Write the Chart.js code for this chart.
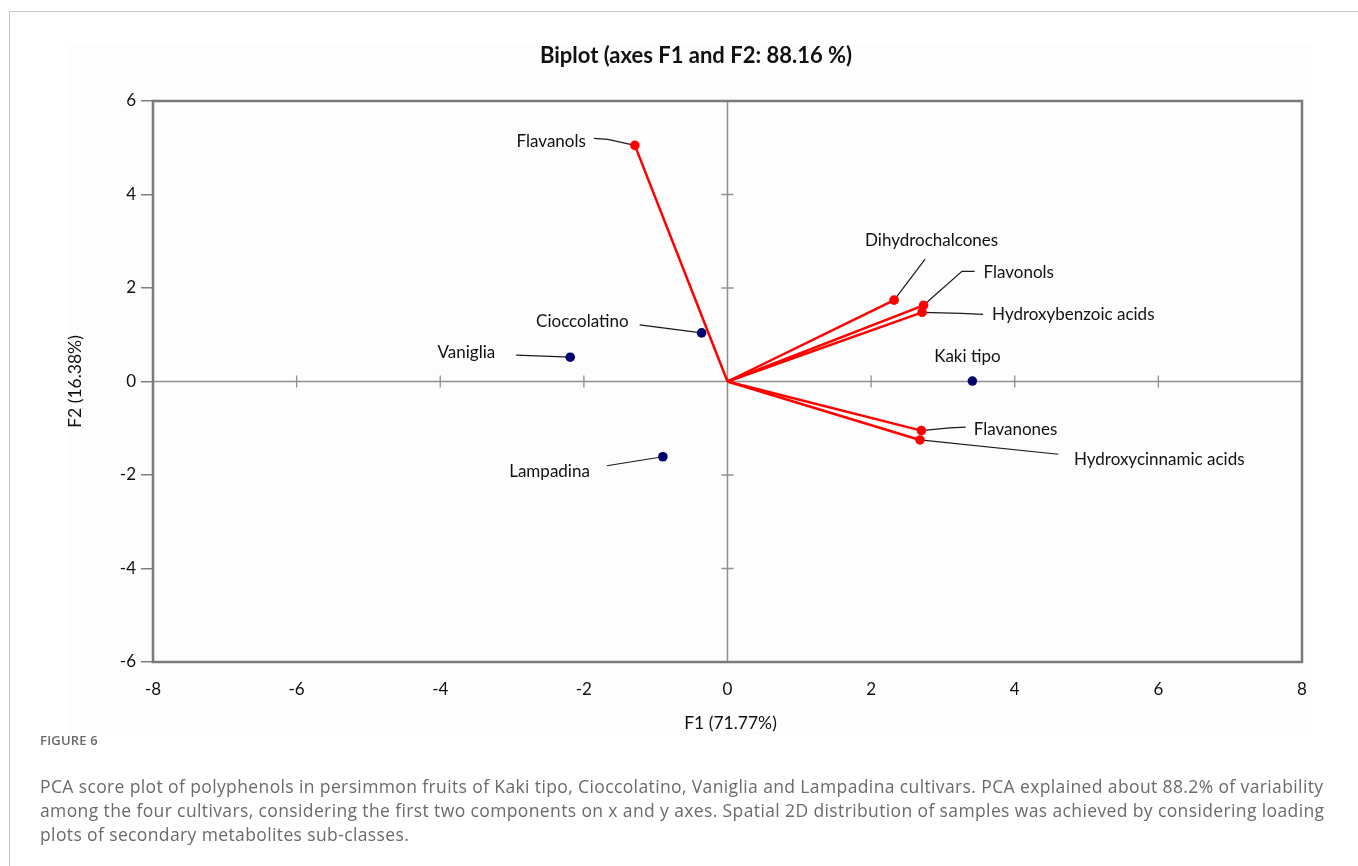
<!DOCTYPE html>
<html>
<head>
<meta charset="utf-8">
<script src="https://cdn.jsdelivr.net/npm/chart.js@4.4.1/dist/chart.umd.min.js"></script>
<style>
  html, body { margin: 0; padding: 0; background: #fff; }
  body { width: 1358px; height: 866px; position: relative; overflow: hidden; }
  #pageFrame { position: absolute; left: 9px; top: 11px; width: 1360px; height: 870px;
               border-top: 1px solid #c8c8c8; border-left: 1px solid #c8c8c8; }
  #plot { position: absolute; left: 0; top: 0; }
  #caption { position: absolute; left: 40px; top: 728px; font-family: 'Open Sans', sans-serif; color: #6a6a6a; }
  #caption .fig { font-size: 13px; font-weight: 600; line-height: 24px; letter-spacing: 0.2px; }
  #caption .txt { font-size: 17.5px; line-height: 24px; white-space: nowrap; margin-top: 22px; letter-spacing: 0.38px; }
</style>
</head>
<body>
<div id="pageFrame"></div>
<canvas id="plot" width="1358" height="740"></canvas>
<div id="caption">
  <div class="fig">FIGURE 6</div>
  <div class="txt">PCA score plot of polyphenols in persimmon fruits of Kaki tipo, Cioccolatino, Vaniglia and Lampadina cultivars. PCA explained about 88.2% of variability<br>among the four cultivars, considering the first two components on x and y axes. Spatial 2D distribution of samples was achieved by considering loading<br>plots of secondary metabolites sub-classes.</div>
</div>
<script>
// Loadings of the polyphenol sub-classes (F1, F2)
const variableNames = ['Flavanols', 'Dihydrochalcones', 'Flavonols', 'Hydroxybenzoic acids', 'Flavanones', 'Hydroxycinnamic acids'];
const variableF1 = [-1.29, 2.32, 2.73, 2.71, 2.70, 2.68];
const variableF2 = [5.05, 1.74, 1.63, 1.48, -1.05, -1.25];

// Scores of the cultivars (F1, F2)
const cultivarNames = ['Kaki tipo', 'Cioccolatino', 'Vaniglia', 'Lampadina'];
const cultivarF1 = [3.41, -0.36, -2.19, -0.90];
const cultivarF2 = [0.01, 1.04, 0.52, -1.61];

// Axis ticks
const xTickValues = [-8, -6, -4, -2, 0, 2, 4, 6, 8];
const yTickValues = [-6, -4, -2, 0, 2, 4, 6];

const chartTitle = 'Biplot (axes F1 and F2: 88.16 %)';
const xAxisTitle = 'F1 (71.77%)';
const yAxisTitle = 'F2 (16.38%)';

// Where each label sits relative to its point (pixels), plus leader-line bends
const labelLayout = {
  'Flavanols':             { dx: -49,  dy: -4,  align: 'right',  leader: [[-27, -6], [-41, -7]] },
  'Dihydrochalcones':      { dx: 37.5, dy: -60, align: 'center', leader: [[31, -41]] },
  'Flavonols':             { dx: 60,   dy: -33, align: 'left',   leader: [[38.4, -34], [51, -34]] },
  'Hydroxybenzoic acids':  { dx: 70,   dy: 2.7, align: 'left',   leader: [[39.4, 1], [61, 2]] },
  'Flavanones':            { dx: 52.3, dy: -1.4, align: 'left',  leader: [[28.3, -2.7], [44.3, -3.4]] },
  'Hydroxycinnamic acids': { dx: 154,  dy: 19.3, align: 'left',  leader: [[138.3, 14.3]] },
  'Kaki tipo':             { dx: -5,   dy: -25, align: 'center', leader: [] },
  'Cioccolatino':          { dx: -73,  dy: -11, align: 'right',  leader: [[-62, -8]] },
  'Vaniglia':              { dx: -75,  dy: -5,  align: 'right',  leader: [[-54, -2]] },
  'Lampadina':             { dx: -73,  dy: 15,  align: 'right',  leader: [[-56, 9]] }
};

const RED = '#ff0000';
const NAVY = '#00006e';
const LABEL_FONT = '17px Lato';

// One dataset per loading vector: origin -> loading point
const vectorDatasets = variableNames.map((name, i) => ({
  label: name,
  kind: 'variable',
  data: [{ x: 0, y: 0 }, { x: variableF1[i], y: variableF2[i] }],
  showLine: true,
  borderColor: RED,
  borderWidth: 2.5,
  backgroundColor: RED,
  pointBackgroundColor: RED,
  pointBorderWidth: 0,
  pointRadius: ctx => (ctx.dataIndex === 0 ? 0 : 4.8),
  pointHoverRadius: ctx => (ctx.dataIndex === 0 ? 0 : 4.8)
}));

const cultivarDataset = {
  label: 'Cultivars',
  kind: 'observation',
  data: cultivarNames.map((n, i) => ({ x: cultivarF1[i], y: cultivarF2[i] })),
  showLine: false,
  backgroundColor: NAVY,
  pointBackgroundColor: NAVY,
  pointBorderWidth: 0,
  pointRadius: 4.8
};

function namesFor(ds) {
  return ds.kind === 'variable' ? [null, ds.label] : cultivarNames;
}

const biplotDecor = {
  id: 'biplotDecor',
  beforeDraw(chart) {
    const ctx = chart.ctx;
    ctx.save();
    ctx.fillStyle = '#fdfdfd';
    ctx.fillRect(67, 45, 1245, 690);
    // chart title
    ctx.fillStyle = '#111';
    ctx.font = 'bold 22px Lato';
    ctx.textAlign = 'center';
    ctx.textBaseline = 'middle';
    ctx.fillText(chartTitle, 696, 56);
    ctx.restore();
  },
  beforeDatasetsDraw(chart) {
    const { ctx, chartArea: a, scales: { x, y } } = chart;
    const x0 = x.getPixelForValue(0);
    const y0 = y.getPixelForValue(0);
    ctx.save();
    // axes through the origin
    ctx.strokeStyle = '#8f8f8f';
    ctx.lineWidth = 1.5;
    ctx.beginPath();
    ctx.moveTo(a.left, y0); ctx.lineTo(a.right, y0);
    ctx.moveTo(x0, a.top); ctx.lineTo(x0, a.bottom);
    ctx.stroke();
    // small cross ticks on those axes
    ctx.lineWidth = 1.3;
    ctx.beginPath();
    xTickValues.forEach(v => {
      if (v === 0) return;
      const px = x.getPixelForValue(v);
      ctx.moveTo(px, y0 - 6); ctx.lineTo(px, y0 + 6);
    });
    yTickValues.forEach(v => {
      if (v === 0) return;
      const py = y.getPixelForValue(v);
      ctx.moveTo(x0 - 6, py); ctx.lineTo(x0 + 6, py);
    });
    ctx.stroke();
    // frame
    ctx.strokeStyle = '#7a7a7a';
    ctx.lineWidth = 2.5;
    ctx.strokeRect(a.left, a.top, a.right - a.left, a.bottom - a.top);

    // leader lines (drawn under the points)
    ctx.strokeStyle = '#1a1a1a';
    ctx.lineWidth = 1.2;
    chart.data.datasets.forEach((ds, di) => {
      const meta = chart.getDatasetMeta(di);
      namesFor(ds).forEach((name, i) => {
        if (!name) return;
        const lay = labelLayout[name];
        if (!lay || !lay.leader.length) return;
        const pt = meta.data[i];
        ctx.beginPath();
        ctx.moveTo(pt.x, pt.y);
        lay.leader.forEach(([dx, dy]) => ctx.lineTo(pt.x + dx, pt.y + dy));
        ctx.stroke();
      });
    });
    ctx.restore();
  },
  afterDatasetsDraw(chart) {
    const { ctx, chartArea: a } = chart;
    ctx.save();
    ctx.fillStyle = '#111';
    ctx.font = LABEL_FONT;
    ctx.textBaseline = 'middle';
    chart.data.datasets.forEach((ds, di) => {
      const meta = chart.getDatasetMeta(di);
      namesFor(ds).forEach((name, i) => {
        if (!name) return;
        const lay = labelLayout[name];
        const pt = meta.data[i];
        ctx.textAlign = lay.align;
        ctx.fillText(name, pt.x + lay.dx, pt.y + lay.dy);
      });
    });
    // axis titles
    ctx.font = '17.5px Lato';
    ctx.textAlign = 'center';
    ctx.fillText(xAxisTitle, (a.left + a.right) / 2 + 3, a.bottom + 61);
    ctx.translate(a.left - 78, (a.top + a.bottom) / 2);
    ctx.rotate(-Math.PI / 2);
    ctx.fillText(yAxisTitle, 0, 0);
    ctx.restore();
  }
};

new Chart(document.getElementById('plot'), {
  type: 'scatter',
  data: { datasets: [...vectorDatasets, cultivarDataset] },
  options: {
    responsive: false,
    animation: false,
    events: [],
    layout: { padding: { top: 101, left: 0, right: 56, bottom: 0 } },
    plugins: {
      legend: { display: false },
      tooltip: { enabled: false },
      title: { display: false }
    },
    scales: {
      x: {
        type: 'linear',
        min: -8, max: 8,
        afterBuildTicks: s => { s.ticks = xTickValues.map(v => ({ value: v })); },
        afterFit: s => { s.height = 78; },
        grid: { display: false },
        border: { display: false },
        ticks: { color: '#111', font: { family: 'Lato', size: 17 }, padding: 9, callback: v => String(v) }
      },
      y: {
        type: 'linear',
        min: -6, max: 6,
        afterBuildTicks: s => { s.ticks = yTickValues.map(v => ({ value: v })); },
        afterFit: s => { s.width = 153; },
        grid: { display: true, drawOnChartArea: false, drawTicks: true, tickLength: 12, color: '#7f7f7f', lineWidth: 1.5 },
        border: { display: false },
        ticks: { color: '#111', font: { family: 'Lato', size: 17 }, padding: 5, callback: v => String(v) }
      }
    }
  },
  plugins: [biplotDecor]
});
</script>
</body>
</html>
